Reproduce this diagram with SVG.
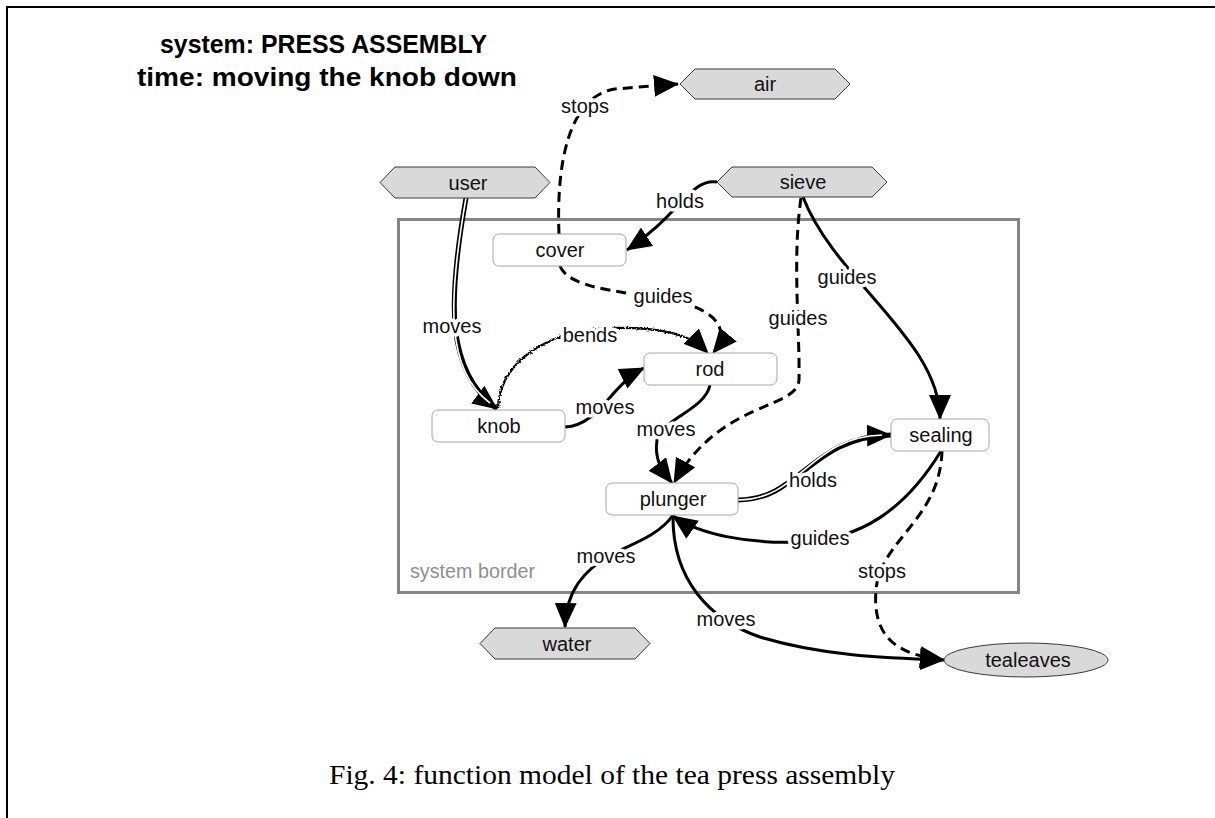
<svg xmlns="http://www.w3.org/2000/svg" width="1215" height="818" viewBox="0 0 1215 818">
<defs>
<style>
.frame{fill:none;stroke:#000;stroke-width:2}
.title{font-family:"Liberation Sans",Arial,sans-serif;font-weight:bold;font-size:25px;fill:#000}
.cap{font-family:"Liberation Serif","Times New Roman",serif;font-size:27px;fill:#000}
.border{fill:none;stroke:#858585;stroke-width:3}
.blabel{font-family:"Liberation Sans",Arial,sans-serif;font-size:20px;fill:#8f8f8f}
.box{fill:#fff;stroke:#a6a6a6;stroke-width:1}
.ext{fill:#d9d9d9;stroke:#3a3a3a;stroke-width:1}
.nt{font-family:"Liberation Sans",Arial,sans-serif;font-size:20px;fill:#111;text-anchor:middle}
.lbl{font-family:"Liberation Sans",Arial,sans-serif;font-size:20px;fill:#111;text-anchor:middle;stroke:#fff;stroke-width:7;stroke-linejoin:round;paint-order:stroke}
.c{fill:none;stroke:#000;stroke-width:3}
.d{stroke-dasharray:10 6}
.dbo{fill:none;stroke:#000;stroke-width:5}
.dbi{fill:none;stroke:#fff;stroke-width:1.6}
.w{fill:none;stroke:#000;stroke-width:2.2}
</style>
<marker id="ah" viewBox="0 0 25 22" refX="24" refY="11" markerWidth="25" markerHeight="22" markerUnits="userSpaceOnUse" orient="auto">
<path d="M0,0 L25,11 L0,22 z" fill="#000"/>
</marker>
<filter id="wavy" x="-10%" y="-20%" width="120%" height="140%">
<feTurbulence type="fractalNoise" baseFrequency="0.55" numOctaves="1" seed="3" result="n"/>
<feDisplacementMap in="SourceGraphic" in2="n" scale="4" xChannelSelector="R" yChannelSelector="G"/>
</filter>
</defs>
<rect width="1215" height="818" fill="#fff"/>
<path class="frame" d="M7,818 L7,7 L1215,7"/>
<text class="title" x="160" y="53" textLength="327" lengthAdjust="spacingAndGlyphs">system: PRESS ASSEMBLY</text>
<text class="title" x="137" y="86" textLength="380" lengthAdjust="spacingAndGlyphs">time: moving the knob down</text>
<g id="system-border">
<rect class="border" x="398.5" y="219.5" width="620" height="373"/>
<text class="blabel" x="410" y="578" textLength="125" lengthAdjust="spacingAndGlyphs">system border</text>
</g>
<g id="connectors">
<path class="c d" d="M559,234 C556,160 570,96 615,89 L678,84" marker-end="url(#ah)"/>
<path class="c" d="M717,182 C690,178 680,215 627,250" marker-end="url(#ah)"/>
<path class="dbo" d="M466,198 C448,300 445,370 497,409" marker-end="url(#ah)"/>
<path class="dbi" d="M466,198 C448,300 445,370 490,403"/>
<path class="w" filter="url(#wavy)" d="M498,408 C500,360 550,330 610,328 C650,327 686,332 703,348"/>
<path fill="none" stroke="none" d="M498,408 C500,360 550,330 610,328 C650,327 690,335 708,353" marker-end="url(#ah)"/>
<path class="c d" d="M560,266 C570,292 640,292 680,302 C715,311 732,330 713,353" marker-end="url(#ah)"/>
<path class="c" d="M565,427 C600,425 610,385 644,368" marker-end="url(#ah)"/>
<path class="c" d="M710,385 C705,410 660,420 657,440 C654,460 662,470 672,483" marker-end="url(#ah)"/>
<path class="c d" d="M801,198 C792,260 800,330 799,380 C797,410 720,400 674,483" marker-end="url(#ah)"/>
<path class="c" d="M803,197 C835,280 940,340 940,419" marker-end="url(#ah)"/>
<path class="dbo" d="M738,500 C800,500 810,437 891,435" marker-end="url(#ah)"/>
<path class="dbi" d="M738,500 C800,500 810,437 882,435"/>
<path class="c" d="M941,451 C905,510 860,540 800,542 C750,544 700,535 673,516" marker-end="url(#ah)"/>
<path class="c d" d="M942,451 C940,520 880,540 876,590 C872,640 900,655 944,660" marker-end="url(#ah)"/>
<path class="c" d="M673,515 C660,535 630,545 610,555 C585,570 566,590 565,627" marker-end="url(#ah)"/>
<path class="c" d="M673,515 C672,580 710,620 760,637 C820,655 880,658 944,660" marker-end="url(#ah)"/>
<text class="lbl" x="585" y="113">stops</text>
<text class="lbl" x="680" y="208">holds</text>
<text class="lbl" x="452" y="333">moves</text>
<text class="lbl" x="590" y="342">bends</text>
<text class="lbl" x="663" y="303">guides</text>
<text class="lbl" x="605" y="414">moves</text>
<text class="lbl" x="666" y="436">moves</text>
<text class="lbl" x="798" y="325">guides</text>
<text class="lbl" x="847" y="284">guides</text>
<text class="lbl" x="813" y="487">holds</text>
<text class="lbl" x="820" y="545">guides</text>
<text class="lbl" x="882" y="578">stops</text>
<text class="lbl" x="606" y="563">moves</text>
<text class="lbl" x="726" y="626">moves</text>
</g>
<g id="air">
<polygon class="ext" points="680,84 695,69 835,69 850,84 835,99 695,99"/>
<text class="nt" x="765" y="91">air</text>
</g>
<g id="user">
<polygon class="ext" points="380,182.5 395,167 535,167 550,182.5 535,198 395,198"/>
<text class="nt" x="468" y="190">user</text>
</g>
<g id="sieve">
<polygon class="ext" points="717,182 732,167 872,167 887,182 872,197 732,197"/>
<text class="nt" x="803" y="189">sieve</text>
</g>
<g id="cover">
<rect class="box" x="493" y="234" width="133" height="32" rx="6"/>
<text class="nt" x="560" y="257">cover</text>
</g>
<g id="rod">
<rect class="box" x="644" y="353" width="133" height="32" rx="6"/>
<text class="nt" x="710" y="376">rod</text>
</g>
<g id="knob">
<rect class="box" x="432" y="410" width="133" height="32" rx="6"/>
<text class="nt" x="499" y="433">knob</text>
</g>
<g id="plunger">
<rect class="box" x="606" y="483" width="132" height="32" rx="6"/>
<text class="nt" x="673" y="506">plunger</text>
</g>
<g id="sealing">
<rect class="box" x="891" y="419" width="98" height="32" rx="6"/>
<text class="nt" x="941" y="442">sealing</text>
</g>
<g id="water">
<polygon class="ext" points="480,643.5 495,628 635,628 650,643.5 635,659 495,659"/>
<text class="nt" x="567" y="651">water</text>
</g>
<g id="tealeaves">
<ellipse class="ext" cx="1026" cy="660" rx="82" ry="17"/>
<text class="nt" x="1028" y="667">tealeaves</text>
</g>
<text class="cap" x="329" y="784" textLength="566" lengthAdjust="spacingAndGlyphs">Fig. 4: function model of the tea press assembly</text>
</svg>
